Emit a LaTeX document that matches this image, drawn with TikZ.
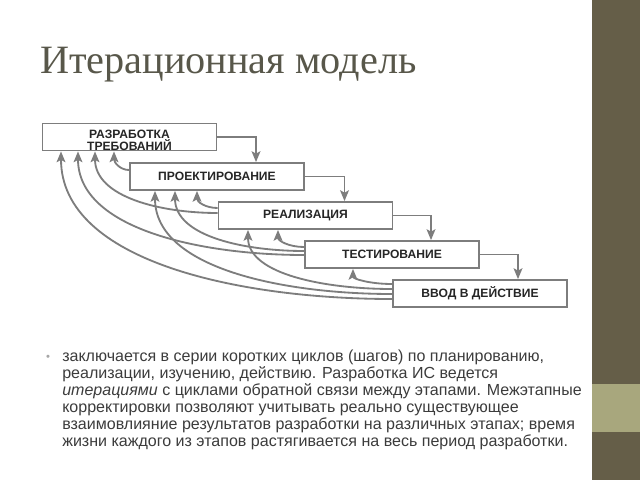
\documentclass[tikz,border=0pt]{standalone}
\usepackage{fontspec}
\setmainfont{Liberation Serif}
\setsansfont{Liberation Sans}
\usetikzlibrary{arrows.meta}

\definecolor{barolive}{RGB}{101,94,72}
\definecolor{bandolive}{RGB}{168,167,125}
\definecolor{titlegray}{RGB}{88,87,74}
\definecolor{textgray}{RGB}{60,60,60}
\definecolor{linegray}{RGB}{125,125,125}
\pgfdeclareradialshading{vignette}{\pgfpoint{0bp}{0bp}}{color(0bp)=(white); color(36bp)=(white); color(72bp)=(black!16)}

\begin{document}
\begin{tikzpicture}[
			x=0.025cm, y=-0.025cm,
			>={Stealth[length=2.7mm,width=2.2mm,inset=0.6mm]},
			stage/.style={
				draw=linegray, line width=1.3pt, fill=white,
				minimum width=4.35cm, minimum height=0.675cm, inner sep=0pt,
				align=center, text=black!85,
				font=\sffamily\bfseries\fontsize{8.6}{7.8}\selectfont
			},
			stage text/.style={
				inner sep=0pt, align=center, text=black!85,
				font=\sffamily\bfseries\fontsize{8.6}{7.6}\selectfont
			},
			flow/.style={->, color=linegray, line width=1.3pt},
			back/.style={->, color=linegray, line width=1.3pt}
			]
			\useasboundingbox (0,0) rectangle (640,480);
			\shade[shading=vignette] (0,0) rectangle (592,480);
			\fill[barolive] (592,0) rectangle (640,480);
			\fill[bandolive] (592,384) rectangle (640,432);
			
			\node[anchor=base west, inner sep=0pt, text=titlegray, font=\fontsize{28.6}{32}\selectfont] (title) at (40,73) {Итерационная модель};
			
			\node[stage] (b1) at (129.5,137) {};
			\node[stage text] (b1text) at (129.5,140.5) {РАЗРАБОТКА\\ТРЕБОВАНИЙ};
			\node[stage] (b2) at (217,176.5) {ПРОЕКТИРОВАНИЕ};
			\node[stage] (b3) at (305.5,215.5) {РЕАЛИЗАЦИЯ};
			\node[stage] (b4) at (392,254.5) {ТЕСТИРОВАНИЕ};
			\node[stage] (b5) at (480,293.5) {ВВОД В ДЕЙСТВИЕ};
			
			\draw[flow] (b1.east) -| ([xshift=0.975cm]b2.north);
			\draw[flow] (b2.east) -| ([xshift=0.975cm]b3.north);
			\draw[flow] (b3.east) -| ([xshift=0.975cm]b4.north);
			\draw[flow] (b4.east) -| ([xshift=0.95cm]b5.north);
			
			% feedback
			\draw[back] (b2.west |- 0,170) .. controls +(-9,0) and +(0,11) .. (b1.south -| 114,0);
			\draw[back] (b3.west |- 0,208) .. controls +(-12,0) and +(0,11) .. (b2.south -| 197,0);
			\draw[back] (b3.west |- 0,213) .. controls +(-56,0) and +(0,46) .. (b1.south -| 95,0);
			\draw[back] (b4.west |- 0,247) .. controls +(-15,0) and +(0,11) .. (b3.south -| 278,0);
			\draw[back] (b4.west |- 0,251) .. controls +(-58,0) and +(0,46) .. (b2.south -| 175,0);
			\draw[back] (b4.west |- 0,255) .. controls +(-102,0) and +(0,78) .. (b1.south -| 78,0);
			\draw[back] (b5.west |- 0,284) .. controls +(-22,0) and +(0,10) .. (b4.south -| 353,0);
			\draw[back] (b5.west |- 0,289) .. controls +(-65,0) and +(0,45) .. (b3.south -| 248,0);
			\draw[back] (b5.west |- 0,294) .. controls +(-107,0) and +(0,78) .. (b2.south -| 155,0);
			\draw[back] (b5.west |- 0,299) .. controls +(-150,0) and +(0,111) .. (b1.south -| 61,0);
			
			\node[text=gray!70, font=\sffamily\fontsize{8}{8}\selectfont] (dot) at (48,358) {•};
			\node[anchor=north west, inner sep=0pt, align=left, text=textgray,
				font=\sffamily\fontsize{11.4}{12.1}\selectfont] (body) at (62,350) {заключается в серии коротких циклов (шагов) по планированию,\\
				реализации, изучению, действию. Разработка ИС ведется\\
				\textit{итерациями} с циклами обратной связи между этапами. Межэтапные\\
				корректировки позволяют учитывать реально существующее\\
				взаимовлияние результатов разработки на различных этапах; время\\
				жизни каждого из этапов растягивается на весь период разработки.};
		\end{tikzpicture}
\end{document}
